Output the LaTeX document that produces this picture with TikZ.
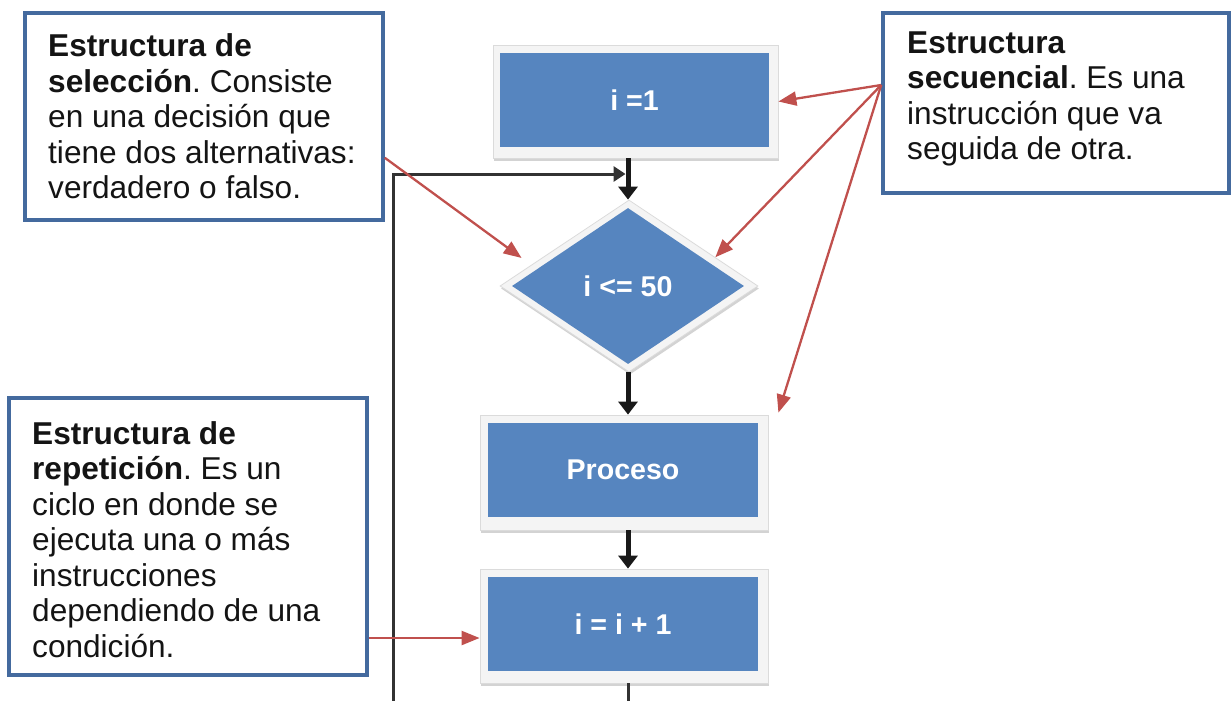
\documentclass[tikz,border=0pt]{standalone}
\usepackage{fontspec}
\setmainfont{Liberation Sans}
\usetikzlibrary{shapes.geometric,arrows.meta,calc,shadows}
\definecolor{boxblue}{RGB}{86,133,191}
\definecolor{noteborder}{RGB}{68,106,158}
\definecolor{callred}{RGB}{192,80,77}
\definecolor{flowblack}{RGB}{25,25,25}
\definecolor{loopgray}{RGB}{50,50,50}
\definecolor{notetextc}{RGB}{20,20,20}
\frenchspacing
\begin{document}
\begin{tikzpicture}[x=1pt,y=-1pt,
  notebox/.style={rectangle, draw=noteborder, line width=3.6pt, fill=white, inner sep=0pt},
  notetext/.style={align=left, inner sep=0pt, text=notetextc, font=\fontsize{31.6}{35.5}\selectfont},
  shapeframe/.style={rectangle, draw=gray!28, line width=0.8pt, fill=gray!9, inner sep=0pt,
     drop shadow={shadow xshift=1pt, shadow yshift=-2.5pt, opacity=0.35, fill=gray}},
  procbox/.style={rectangle, fill=boxblue, inner sep=0pt, text=white,
     font=\bfseries\fontsize{28.6}{30}\selectfont, minimum width=270pt, minimum height=94pt},
  flowarrow/.style={draw=flowblack, line width=5pt, -{Triangle[length=13pt,width=19pt]}},
  loopline/.style={draw=loopgray, line width=3pt},
  callout/.style={draw=callred, line width=2.3pt, -{Triangle[length=18pt,width=14pt]}}
]
\useasboundingbox (0,0) rectangle (1231,701);

% flowchart shapes
\node[shapeframe, minimum width=285pt, minimum height=113pt] (topf) at (635.5,101.5) {};
\node[procbox, minimum width=269pt] (top) at (634.5,100) {i =1};
\node[shapeframe, diamond, minimum width=258pt, minimum height=172pt] (diaf) at (629,286) {};
\node[procbox, diamond, minimum width=232pt, minimum height=156pt] (dia) at (628,286) {i <= 50};
\node[shapeframe, minimum width=288pt, minimum height=115pt] (procf) at (624,472.5) {};
\node[procbox] (proc) at (623,470) {Proceso};
\node[shapeframe, minimum width=288pt, minimum height=114pt] (incf) at (624,626) {};
\node[procbox] (inc) at (623,624) {i = i + 1};

% flow connectors
\coordinate (join) at (628,174);
\coordinate (endc) at (628,701);
\coordinate (loopstart) at (393,701);
\draw[flowarrow] (topf.south -| dia.north) -- (diaf.north -| dia.north);
\draw[flowarrow] (diaf.south -| dia.south) -- (procf.north -| dia.south);
\draw[flowarrow] (procf.south -| dia.south) -- (incf.north -| dia.south);
\draw[loopline] (incf.south -| dia.south) -- (endc);
\draw[loopline, -{Triangle[length=12pt,width=15pt]}] (loopstart) |- ($(join)+(-2.5,0)$);

% note boxes
\node[notebox, minimum width=358pt, minimum height=207pt] (sel) at (204,116.5) {};
\node[notetext, anchor=west] (selt) at (48,116.5)
  {\textbf{Estructura de}\\\textbf{selección}. Consiste\\en una decisión que\\tiene dos alternativas:\\verdadero o falso.};
\node[notebox, minimum width=346pt, minimum height=180pt] (sec) at (1056,103) {};
\node[notetext, anchor=west] (sect) at (907,99)
  {\textbf{Estructura}\\\textbf{secuencial}. Es una\\instrucción que va\\seguida de otra.};
\node[notebox, minimum width=358pt, minimum height=277pt] (rep) at (188,536.5) {};
\node[notetext, anchor=west] (rept) at (32,539.5)
  {\textbf{Estructura de}\\\textbf{repetición}. Es un\\ciclo en donde se\\ejecuta una o más\\instrucciones\\dependiendo de una\\condición.};

% callout arrows
\coordinate (selsrc) at ($(sel.north east)!0.696!(sel.south east)$);
\draw[callout] (selsrc) -- ($(diaf.west)+(22,-28)$);
\coordinate (secsrc) at ($(sec.west)+(0,-18)$);
\draw[callout] (secsrc) -- (topf.east);
\draw[callout] (secsrc) -- ($(diaf.east)!0.333!(diaf.north)$);
\draw[callout] (secsrc) -- ($(procf.north east)+(10,-2)$);
\coordinate (reptip) at ($(incf.west)+(0,12)$);
\draw[callout] (rep.east |- reptip) -- (reptip);
\end{tikzpicture}
\end{document}
